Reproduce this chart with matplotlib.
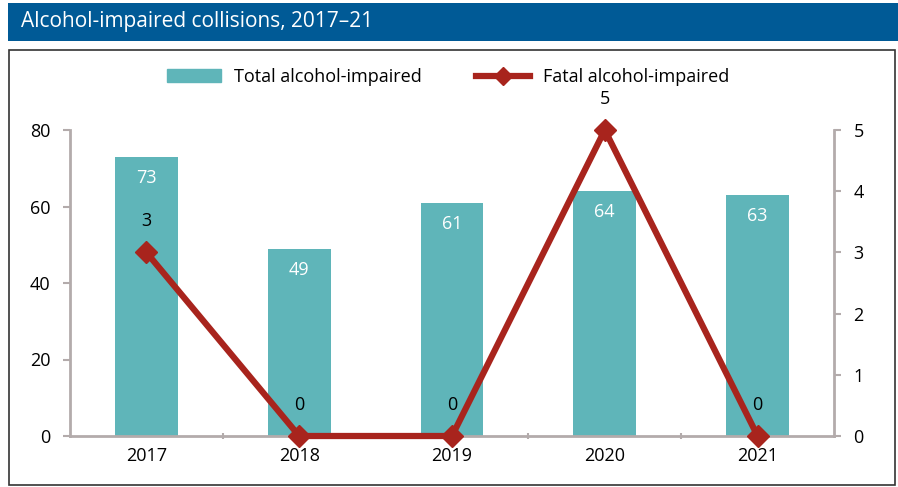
import matplotlib
matplotlib.use("Agg")
import matplotlib.pyplot as plt
from matplotlib.patches import Rectangle
from matplotlib.lines import Line2D
import numpy as np

years = ["2017", "2018", "2019", "2020", "2021"]
total_impaired = [73, 49, 61, 64, 63]
fatal_impaired = [3, 0, 0, 5, 0]
left_ticks = [0, 20, 40, 60, 80]
right_ticks = [0, 1, 2, 3, 4, 5]

plt.rcParams['font.family'] = ['Open Sans', 'DejaVu Sans']
plt.rcParams['font.weight'] = 500

W, H = 898, 487
fig = plt.figure(figsize=(W / 100, H / 100), dpi=100)

# title bar
fig.patches.append(Rectangle((8 / W, 1 - 41 / H), (898 - 8) / W, 38 / H,
                             transform=fig.transFigure, facecolor="#005a96",
                             edgecolor="none", zorder=0))
fig.text(21 / W, 1 - 21 / H, "Alcohol-impaired collisions, 2017\u201321",
         color="white", fontsize=15, va="center", ha="left")
# frame
fig.patches.append(Rectangle((8.5 / W, 1 - 485 / H), (895 - 8.5) / W, (485 - 50) / H,
                             transform=fig.transFigure, facecolor="none",
                             edgecolor="#333333", linewidth=1.2, zorder=0))

ax = fig.add_axes([70 / W, 1 - 436 / H, (834 - 70) / W, (436 - 130) / H])
ax2 = ax.twinx()

x = np.arange(len(years))
bar_color = "#5fb5b9"
line_color = "#a8241d"
spine_color = "#b3abab"

bars = ax.bar(x, total_impaired, width=0.41, color=bar_color, zorder=2)
for xi, v in zip(x, total_impaired):
    ax.text(xi, v - 3.2, str(v), ha="center", va="top", color="white", fontsize=13)

ax2.plot(x, fatal_impaired, color=line_color, linewidth=4.5, marker="D",
         markersize=11, zorder=3, clip_on=False)
for xi, v in zip(x, fatal_impaired):
    ax2.text(xi, v + 0.36, str(v), ha="center", va="bottom", color="black", fontsize=13)

ax.set_xlim(-0.5, len(years) - 0.5)
ax.set_ylim(0, 80)
ax2.set_ylim(0, 5)
ax.set_yticks(left_ticks)
ax2.set_yticks(right_ticks)
ax.set_xticks(x)
ax.set_xticklabels(years)
ax.set_xticks(np.arange(0.5, len(years) - 1, 1), minor=True)
ax.tick_params(axis="x", which="major", length=0, pad=8, labelsize=13)
ax.tick_params(axis="x", which="minor", length=5, direction="inout", color=spine_color, width=1.5)
ax.tick_params(axis="y", length=5, color=spine_color, width=1.5, labelsize=13, pad=9)
ax2.tick_params(axis="y", length=5, color=spine_color, width=1.5, labelsize=13, pad=9)

for a in (ax, ax2):
    a.spines["top"].set_visible(False)
    for s in ("left", "right", "bottom"):
        a.spines[s].set_color(spine_color)
        a.spines[s].set_linewidth(2)
ax.spines["right"].set_visible(False)
ax2.spines["left"].set_visible(False)
ax2.spines["bottom"].set_visible(False)

handles = [Rectangle((0, 0), 1, 1, color=bar_color),
           Line2D([0], [0], color=line_color, linewidth=4.5, marker="D", markersize=9)]
fig.legend(handles, ["Total alcohol-impaired", "Fatal alcohol-impaired"],
           loc="center", bbox_to_anchor=(448 / W, 1 - 77 / H), ncol=2, frameon=False,
           fontsize=13, handlelength=3.0, columnspacing=3.0, handletextpad=0.7)

fig.savefig("out.png", dpi=100)
